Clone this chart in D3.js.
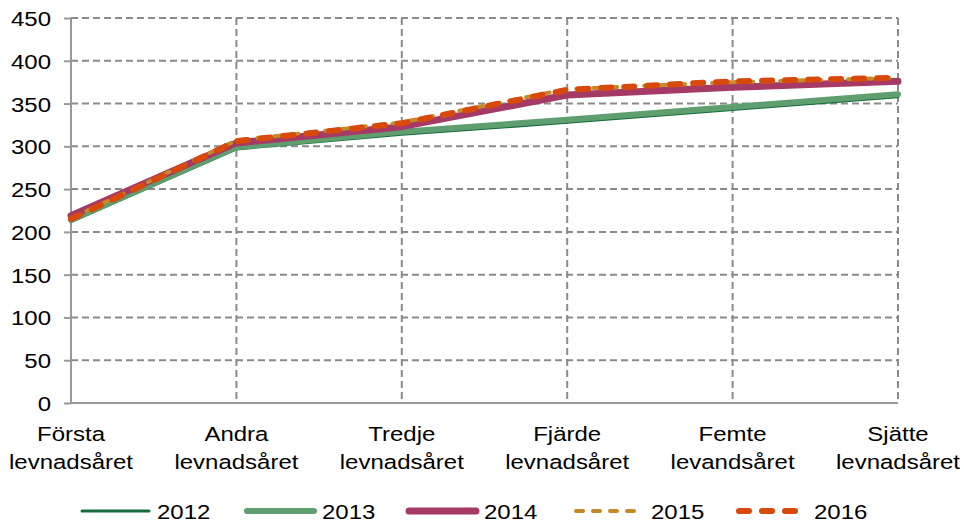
<html>
<head>
<script src="https://d3js.org/d3.v7.min.js"></script>
<style>
  body { margin: 0; background: #fff; }
  svg text { font-family: "Liberation Sans", Arial, sans-serif; fill: #000; font-size: 24px; }
</style>
</head>
<body>
<script>
var categories = [["Första", "levnadsåret"], ["Andra", "levnadsåret"], ["Tredje", "levnadsåret"],
                  ["Fjärde", "levnadsåret"], ["Femte", "levandsåret"], ["Sjätte", "levnadsåret"]];
var years = ["2012", "2013", "2014", "2015", "2016"];
var v2012 = [212, 297, 314, 328, 343, 358];
var v2013 = [214, 299, 317, 331, 346, 361];
var v2014 = [219, 304, 323, 360, 369, 376];
var v2015 = [216, 307, 328, 367, 375, 380];
var v2016 = [215, 306, 327, 366, 376, 380];
var yTicks = [0, 50, 100, 150, 200, 250, 300, 350, 400, 450];

var series = [
  {name: years[0], values: v2012, color: "#176b3d", width: 3, dash: null},
  {name: years[1], values: v2013, color: "#5f9e6e", width: 6, dash: null},
  {name: years[2], values: v2014, color: "#a63a66", width: 7, dash: null},
  {name: years[3], values: v2015, color: "#c48a25", width: 4, dash: "7,10"},
  {name: years[4], values: v2016, color: "#d84a0c", width: 6, dash: "10,13"}
];

var width = 964, height = 523;
var pLeft = 71, pRight = 898, pTop = 18, pBottom = 403;
var squash = "scale(1,0.88)";

var svg = d3.select("body").append("svg")
    .attr("width", width)
    .attr("height", height);

var xScale = d3.scalePoint()
    .domain(d3.range(categories.length))
    .range([pLeft, pRight]);

var yScale = d3.scaleLinear()
    .domain([0, 450])
    .range([pBottom, pTop]);

// gridlines
var grid = svg.append("g");
grid.selectAll("line.h")
    .data(yTicks.filter(function(d) { return d > 0; }))
    .enter().append("line")
    .attr("x1", pLeft).attr("x2", pRight)
    .attr("y1", function(d) { return yScale(d); })
    .attr("y2", function(d) { return yScale(d); })
    .attr("stroke", "#8a8a8a").attr("stroke-width", 2)
    .attr("stroke-dasharray", "7,4");
grid.selectAll("line.v")
    .data(d3.range(1, categories.length))
    .enter().append("line")
    .attr("x1", function(d) { return xScale(d); })
    .attr("x2", function(d) { return xScale(d); })
    .attr("y1", pTop).attr("y2", pBottom)
    .attr("stroke", "#8a8a8a").attr("stroke-width", 2)
    .attr("stroke-dasharray", "7,4");

// y axis ticks + labels
var yAxis = d3.axisLeft(yScale).tickValues(yTicks).tickSize(7).tickFormat("");
var yg = svg.append("g")
    .attr("transform", "translate(" + pLeft + ",0)")
    .call(yAxis);
yg.select(".domain").remove();
yg.selectAll(".tick line").attr("stroke", "#999").attr("stroke-width", 2);

svg.append("g").selectAll("text")
    .data(yTicks)
    .enter().append("text")
    .attr("text-anchor", "end")
    .attr("transform", function(d) { return "translate(51," + (yScale(d) + 8) + ") " + squash; })
    .text(function(d) { return d; });

svg.append("line")
    .attr("x1", pLeft).attr("x2", pLeft).attr("y1", pTop).attr("y2", pBottom)
    .attr("stroke", "#999").attr("stroke-width", 2);
svg.append("line")
    .attr("x1", pLeft).attr("x2", pRight).attr("y1", pBottom).attr("y2", pBottom)
    .attr("stroke", "#999").attr("stroke-width", 2);

// x labels
var xl = svg.append("g").selectAll("g")
    .data(categories)
    .enter().append("g")
    .attr("transform", function(d, i) { return "translate(" + xScale(i) + ",0)"; });
xl.append("text")
    .attr("text-anchor", "middle")
    .attr("transform", "translate(0,441) " + squash)
    .text(function(d) { return d[0]; });
xl.append("text")
    .attr("text-anchor", "middle")
    .attr("transform", "translate(0,469) " + squash)
    .text(function(d) { return d[1]; });

// lines
var line = d3.line()
    .x(function(d, i) { return xScale(i); })
    .y(function(d) { return yScale(d); });

svg.append("g").selectAll("path")
    .data(series)
    .enter().append("path")
    .attr("d", function(s) { return line(s.values); })
    .attr("fill", "none")
    .attr("stroke", function(s) { return s.color; })
    .attr("stroke-width", function(s) { return s.width; })
    .attr("stroke-linecap", "round")
    .attr("stroke-linejoin", "round")
    .attr("stroke-dasharray", function(s) { return s.dash; });

// legend
var legendX = [80, 245, 407, 574, 737];
var leg = svg.append("g").selectAll("g")
    .data(series)
    .enter().append("g")
    .attr("transform", function(d, i) { return "translate(" + legendX[i] + ",511)"; });
leg.append("line")
    .attr("x1", 2).attr("x2", 69).attr("y1", 0).attr("y2", 0)
    .attr("stroke", function(s) { return s.color; })
    .attr("stroke-width", function(s) { return s.width; })
    .attr("stroke-linecap", "round")
    .attr("stroke-dasharray", function(s) { return s.dash; });
leg.append("text")
    .attr("transform", "translate(77,8) " + squash)
    .text(function(s) { return s.name; });
</script>
</body>
</html>
